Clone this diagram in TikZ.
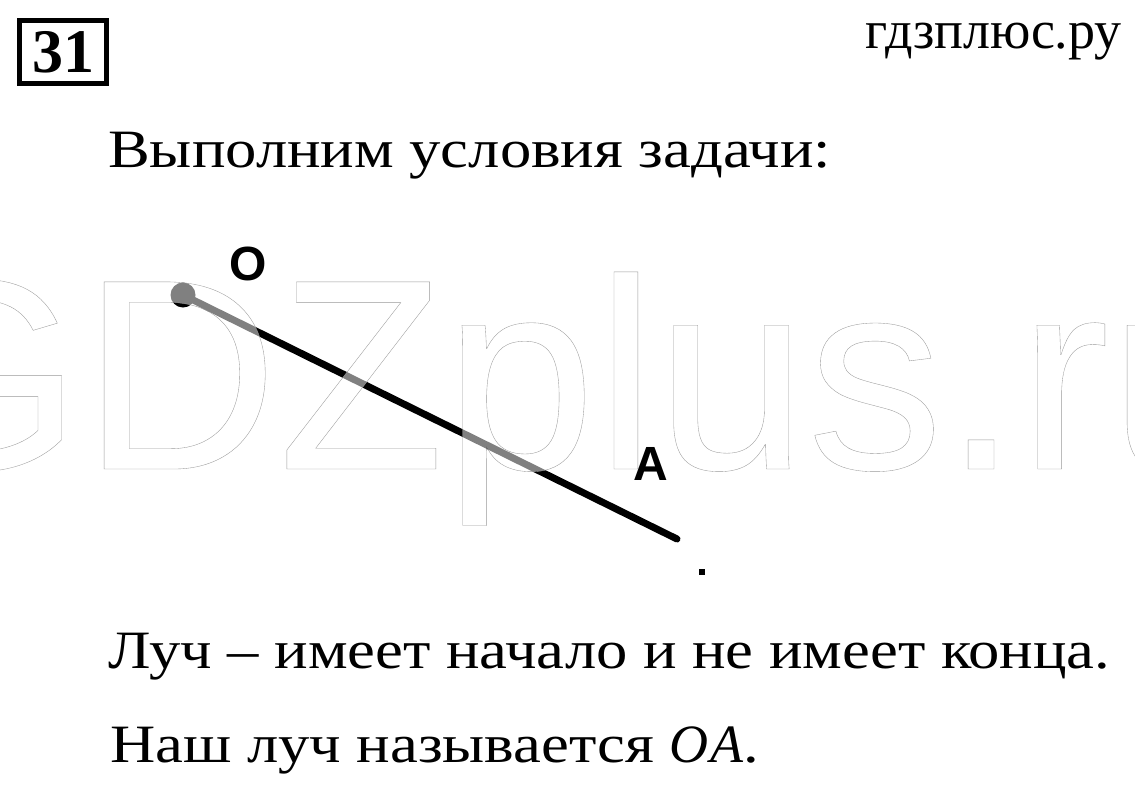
\documentclass[tikz,border=0pt]{standalone}
\usepackage{fontspec}
\setmainfont{Liberation Serif}
\newfontfamily\bodyfont[FakeStretch=1.16]{Liberation Serif}
\newfontfamily\wmfont{Liberation Sans}
\newfontfamily\lblfont{Liberation Sans}
\newcommand\outlinetxt[1]{\special{pdf:literal 2 Tr 0.6 G 0.35 w}#1\special{pdf:literal 0 Tr}}
\tikzset{
  bodytext/.style={anchor=base west, inner sep=0pt, font=\bodyfont\fontsize{54}{54}\selectfont},
  ptlabel/.style={inner sep=0pt, font=\lblfont\bfseries\fontsize{48}{48}\selectfont},
}
\begin{document}
\begin{tikzpicture}[x=1pt,y=-1pt]
\useasboundingbox (0,0) rectangle (1135,785);
\clip (0,0) rectangle (1135,785);
\fill[white] (0,0) rectangle (1135,785);
% number box
\node[draw, line width=5pt, minimum width=87pt, minimum height=63pt, inner sep=0pt,
      font=\bfseries\fontsize{62}{62}\selectfont] (num) at (63,52) {31};
\node[anchor=base east, inner sep=0pt, font=\fontsize{54}{54}\selectfont] (site) at (1122,48) {гдзплюс.ру};
\node[bodytext] (h1) at (108,167) {Выполним условия задачи:};
% ray
\coordinate (O) at (183,295);
\coordinate (E) at (677,539);
\node[circle, fill=black, inner sep=0pt, minimum size=25pt] (Odot) at (O) {};
\draw[line width=7pt, line cap=round] (Odot.center) -- (E);
\node[fill=black, inner sep=0pt, minimum size=6pt] (pt) at (702,572) {};
% watermark
\node[anchor=base west, inner sep=0pt, fill opacity=0.5, text=white] (wm) at (-130,469)
  {\wmfont\fontsize{272}{272}\selectfont\outlinetxt{GDZplus.ru}};
% labels
\node[ptlabel] (lo) at (248,264) {O};
\node[ptlabel] (la) at (651,464) {A};
\node[bodytext] (l2) at (108,668) {Луч – имеет начало и не имеет конца.};
\node[bodytext] (l3) at (110,762) {Наш луч называется {\rmfamily\itshape O\kern2pt A}.};
\end{tikzpicture}
\end{document}
